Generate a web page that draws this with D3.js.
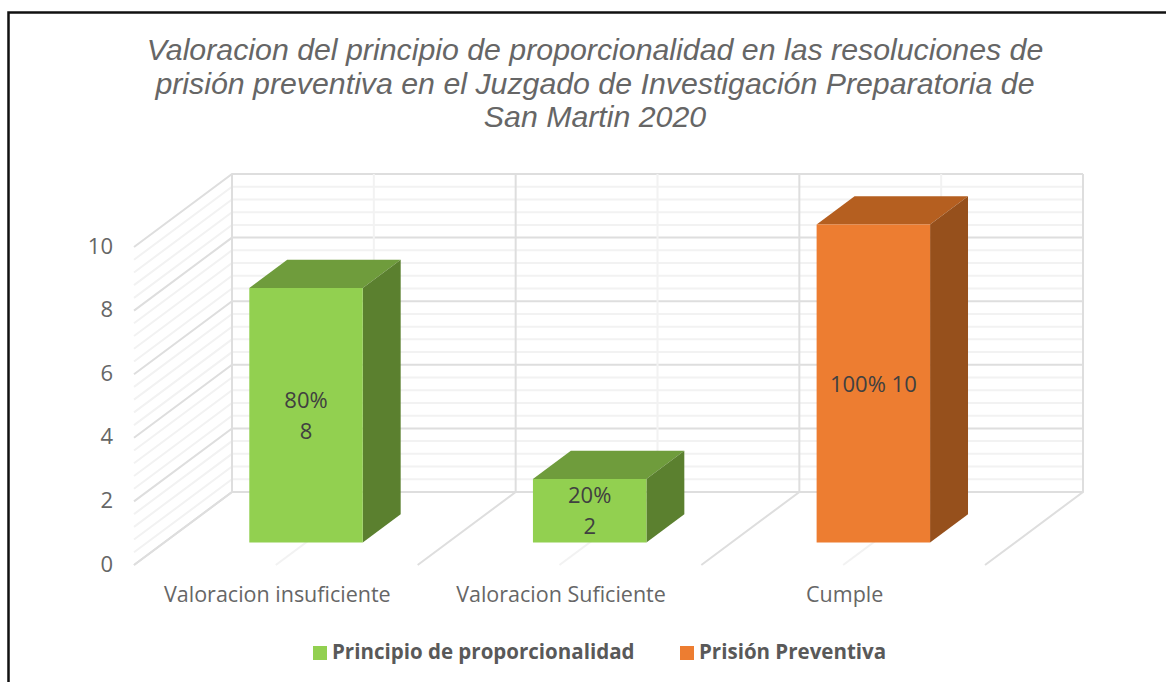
<!DOCTYPE html>
<html>
<head>
<meta charset="utf-8">
<script src="https://cdn.jsdelivr.net/npm/d3@7"></script>
<style>
    html, body { margin: 0; padding: 0; background: #fff; }
    svg { display: block; }
</style>
</head>
<body>
<div class="canvas"></div>
<script>
// chart data
const titleLines = [
    'Valoracion del principio de proporcionalidad en las resoluciones de',
    'prisión preventiva en el Juzgado de Investigación Preparatoria de',
    'San Martin 2020'
];
const categories = ['Valoracion insuficiente', 'Valoracion Suficiente', 'Cumple'];
const seriesNames = ['Principio de proporcionalidad', 'Prisión Preventiva'];
const barValues = [8, 2, 10];
const barSeries = [0, 0, 1];
const barLabels = [['80%', '8'], ['20%', '2'], ['100% 10']];
const yTicks = [0, 2, 4, 6, 8, 10];
const yMinorTicks = [0.4, 0.8, 1.2, 1.6, 2.4, 2.8, 3.2, 3.6, 4.4, 4.8, 5.2, 5.6, 6.4, 6.8, 7.2, 7.6, 8.4, 8.8, 9.2, 9.6];

const width = 1166, height = 682;

// the back wall of the 3d box, the front is shifted by depth
const back = {left: 232, right: 1083, bottom: 492, top: 174};
const depth = {x: -98, y: 73};

const colors = [
    {front: '#92d050', top: '#6f9c3c', side: '#5b802f'},
    {front: '#ed7d31', top: '#b55f20', side: '#96501c'}
];

const svg = d3.select('.canvas')
    .append('svg')
    .attr('width', width)
    .attr('height', height);

// outer frame, only left and top are in the picture
svg.append('path')
    .attr('d', 'M8.5,682V12.5H1166')
    .attr('fill', 'none')
    .attr('stroke', '#111')
    .attr('stroke-width', 2.5);

// title
svg.append('g')
    .selectAll('text')
    .data(titleLines)
    .enter()
    .append('text')
    .attr('x', 595)
    .attr('y', (d, i) => 60 + i * 33.5)
    .attr('text-anchor', 'middle')
    .attr('font-family', '"Liberation Sans", Arial, sans-serif')
    .attr('font-style', 'italic')
    .attr('font-size', 30.3)
    .attr('fill', '#666')
    .text(d => d);

// scales
const y = d3.scaleLinear().domain([0, 10]).range([back.bottom, back.top]);
const x = d3.scaleBand().domain(categories).range([back.left, back.right]).paddingInner(0).paddingOuter(0);
const z = d3.scaleLinear().domain([0, 1]).range([0, 1]); // 0 = back wall, 1 = front edge

// project a point of the box on screen
const px = (xBack, t) => xBack + depth.x * z(t);
const py = (yBack, t) => yBack + depth.y * z(t);

const line = d3.line();

// walls and floor
const grid = svg.append('g').attr('fill', 'none');

const wallLine = (v, color, w) => {
    grid.append('path')
        .attr('d', line([[px(back.left, 1), py(y(v), 1)], [back.left, y(v)], [back.right, y(v)]]))
        .attr('stroke', color)
        .attr('stroke-width', w);
};

yMinorTicks.forEach(v => wallLine(v, '#f2f2f2', 2));
yTicks.forEach(v => wallLine(v, '#dedede', 2));

// vertical lines on the back wall and their floor lines
const edges = categories.map(c => x(c)).concat([back.right]);
const centers = categories.map(c => x(c) + x.bandwidth() / 2);

centers.forEach(c => {
    grid.append('path')
        .attr('d', line([[px(c, 1), py(y(0), 1)], [c, y(0)], [c, y(10)]]))
        .attr('stroke', '#f2f2f2')
        .attr('stroke-width', 2);
});

edges.forEach(c => {
    grid.append('path')
        .attr('d', line([[px(c, 1), py(y(0), 1)], [c, y(0)], [c, y(10)]]))
        .attr('stroke', '#dedede')
        .attr('stroke-width', 2);
});

// bars
const barWidth = x.bandwidth() * 0.4;
const barFront = 0.692, barBack = 0.305;

const bars = svg.append('g')
    .selectAll('g')
    .data(categories.map((c, i) => ({name: c, value: barValues[i], series: barSeries[i], label: barLabels[i]})))
    .enter()
    .append('g');

// face helpers: corners go through px/py
const frontFace = d => {
    const x0 = x(d.name) + x.bandwidth() / 2 - barWidth / 2, x1 = x0 + barWidth;
    return line([
        [px(x0, barFront), py(y(0), barFront)], [px(x1, barFront), py(y(0), barFront)],
        [px(x1, barFront), py(y(d.value), barFront)], [px(x0, barFront), py(y(d.value), barFront)]
    ]) + 'Z';
};
const topFace = d => {
    const x0 = x(d.name) + x.bandwidth() / 2 - barWidth / 2, x1 = x0 + barWidth, yv = y(d.value);
    return line([
        [px(x0, barFront), py(yv, barFront)], [px(x1, barFront), py(yv, barFront)],
        [px(x1, barBack), py(yv, barBack)], [px(x0, barBack), py(yv, barBack)]
    ]) + 'Z';
};
const sideFace = d => {
    const x0 = x(d.name) + x.bandwidth() / 2 - barWidth / 2, x1 = x0 + barWidth, yv = y(d.value);
    return line([
        [px(x1, barFront), py(y(0), barFront)], [px(x1, barBack), py(y(0), barBack)],
        [px(x1, barBack), py(yv, barBack)], [px(x1, barFront), py(yv, barFront)]
    ]) + 'Z';
};

bars.append('path').attr('d', topFace).attr('fill', d => colors[d.series].top);
bars.append('path').attr('d', sideFace).attr('fill', d => colors[d.series].side);
bars.append('path').attr('d', frontFace).attr('fill', d => colors[d.series].front);

// data labels
const labelFont = '"Open Sans", sans-serif';
bars.each(function(d) {
    const cx = px(x(d.name) + x.bandwidth() / 2, barFront);
    const cy = (py(y(0), barFront) + py(y(d.value), barFront)) / 2;
    d3.select(this).selectAll('text')
        .data(d.label)
        .enter()
        .append('text')
        .attr('x', cx)
        .attr('y', (l, i) => cy + 8 + (i - (d.label.length - 1) / 2) * 31)
        .attr('text-anchor', 'middle')
        .attr('font-family', labelFont)
        .attr('font-size', 22)
        .attr('fill', '#404040')
        .text(l => l);
});

// value axis sits on the front edge of the left wall
const yFront = d3.scaleLinear().domain([0, 10]).range([py(back.bottom, 1), py(back.top, 1)]);
const yAxis = d3.axisLeft(yFront).tickValues(yTicks).tickSize(0).tickPadding(0);
svg.append('g')
    .attr('transform', 'translate(113,-1)')
    .call(yAxis)
    .call(g => g.select('.domain').remove())
    .call(g => g.selectAll('text')
        .attr('font-family', labelFont)
        .attr('font-size', 22)
        .attr('fill', '#666'));

// category labels
const xFront = d3.scaleBand().domain(categories).range([px(back.left, 1), px(back.right, 1)]);
const xAxis = d3.axisBottom(xFront).tickSize(0).tickPadding(0);
svg.append('g')
    .attr('transform', 'translate(1.5,587)')
    .call(xAxis)
    .call(g => g.select('.domain').remove())
    .call(g => g.selectAll('text')
        .attr('font-family', labelFont)
        .attr('font-size', 21.5)
        .attr('fill', '#666'));

// legend
const legendX = [313, 680];
const legend = svg.append('g')
    .selectAll('g')
    .data(seriesNames)
    .enter()
    .append('g')
    .attr('transform', (d, i) => `translate(${legendX[i]},646)`);

legend.append('rect')
    .attr('width', 14)
    .attr('height', 14)
    .attr('fill', (d, i) => colors[i].front);

legend.append('text')
    .attr('x', 19)
    .attr('y', 13)
    .attr('font-family', labelFont)
    .attr('font-weight', 700)
    .attr('font-size', 20.5)
    .attr('fill', '#595959')
    .text(d => d);
</script>
</body>
</html>
